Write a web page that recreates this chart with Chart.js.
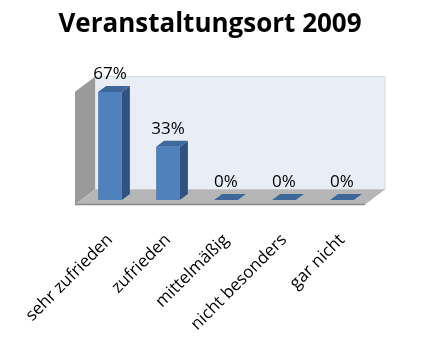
<!DOCTYPE html>
<html>
<head>
<meta charset="utf-8">
<script src="https://cdn.jsdelivr.net/npm/chart.js@4"></script>
<style>
  html, body { margin: 0; padding: 0; background: #fff; }
  #wrap { width: 422px; height: 350px; }
</style>
</head>
<body>
<div id="wrap"><canvas id="chart"></canvas></div>
<script>
var categories = ['sehr zufrieden', 'zufrieden', 'mittelmäßig', 'nicht besonders', 'gar nicht'];
var values = [67, 33, 0, 0, 0];
var valueLabels = ['67%', '33%', '0%', '0%', '0%'];

// depth of the bars and of the walls (pseudo 3D)
var barDx = 8, barDy = -6;
var frontDx = -6, frontDy = 4.5;
var backDx = 14, backDy = -10.5;

function poly(ctx, pts, fill, stroke) {
  ctx.beginPath();
  ctx.moveTo(pts[0][0], pts[0][1]);
  for (var i = 1; i < pts.length; i++) ctx.lineTo(pts[i][0], pts[i][1]);
  ctx.closePath();
  ctx.fillStyle = fill;
  ctx.fill();
  if (stroke) { ctx.strokeStyle = stroke; ctx.lineWidth = 1; ctx.stroke(); }
}

var walls = {
  id: 'walls',
  beforeDatasetsDraw: function(chart) {
    var ctx = chart.ctx, a = chart.chartArea;
    ctx.save();
    // back wall
    poly(ctx, [[a.left + backDx, a.top + backDy], [a.right + backDx, a.top + backDy],
               [a.right + backDx, a.bottom + backDy], [a.left + backDx, a.bottom + backDy]], '#e9edf6', '#d4d8e0');
    // left wall
    poly(ctx, [[a.left + frontDx, a.top + frontDy], [a.left + backDx, a.top + backDy],
               [a.left + backDx, a.bottom + backDy], [a.left + frontDx, a.bottom + frontDy]], '#9a9a9a');
    // floor
    poly(ctx, [[a.left + frontDx, a.bottom + frontDy], [a.left + backDx, a.bottom + backDy],
               [a.right + backDx, a.bottom + backDy], [a.right + frontDx, a.bottom + frontDy]], '#b6b6b6');
    ctx.strokeStyle = '#8a8a8a';
    ctx.lineWidth = 1.5;
    ctx.beginPath();
    ctx.moveTo(a.left + frontDx, a.bottom + frontDy);
    ctx.lineTo(a.right + frontDx, a.bottom + frontDy);
    ctx.stroke();
    ctx.restore();
  },
  afterDatasetsDraw: function(chart) {
    var ctx = chart.ctx;
    var meta = chart.getDatasetMeta(0);
    ctx.save();
    meta.data.forEach(function(bar, i) {
      var half = bar.width / 2;
      var l = bar.x - half, r = bar.x + half, t = bar.y, b = bar.base;
      // right side
      if (b - t > 0.5) {
        poly(ctx, [[r, t], [r + barDx, t + barDy], [r + barDx, b + barDy], [r, b]], '#30527f');
      }
      // top
      poly(ctx, [[l, t], [l + barDx, t + barDy], [r + barDx, t + barDy], [r, t]], '#3e679c');
      // value label
      ctx.fillStyle = '#000';
      ctx.font = '17px "Open Sans"';
      ctx.textAlign = 'center';
      ctx.textBaseline = 'alphabetic';
      ctx.fillText(valueLabels[i], bar.x, t - 13);
    });
    ctx.restore();
  }
};

new Chart(document.getElementById('chart'), {
  type: 'bar',
  data: {
    labels: categories,
    datasets: [{
      data: values,
      backgroundColor: '#4f81bd',
      borderWidth: 0,
      barPercentage: 0.41,
      categoryPercentage: 1
    }]
  },
  options: {
    responsive: true,
    maintainAspectRatio: false,
    animation: false,
    layout: { padding: { left: 20, right: 22, top: 0, bottom: 0 } },
    plugins: {
      legend: { display: false },
      tooltip: { enabled: false },
      title: {
        display: true,
        text: 'Veranstaltungsort 2009',
        color: '#000',
        font: { family: 'Open Sans', size: 26, weight: 'bold', lineHeight: 1.2 },
        padding: { top: 9, bottom: 47 }
      }
    },
    scales: {
      x: {
        grid: { display: false, drawTicks: false },
        border: { display: false },
        ticks: {
          color: '#000',
          font: { family: 'Open Sans', size: 17 },
          minRotation: 45,
          maxRotation: 45,
          padding: 30
        },
        afterFit: function(s) {
          s.height = 150;
          s.paddingLeft = 0;
          s.paddingRight = 0;
        }
      },
      y: {
        min: 0,
        max: 70,
        grid: { display: false, drawTicks: false },
        border: { display: false },
        ticks: { display: false },
        afterFit: function(s) {
          s.width = 61;
        }
      },
      yRight: {
        type: 'linear',
        position: 'right',
        grid: { display: false, drawTicks: false },
        border: { display: false },
        ticks: { display: false },
        afterFit: function(s) {
          s.width = 29;
        }
      }
    }
  },
  plugins: [walls]
});
</script>
</body>
</html>
